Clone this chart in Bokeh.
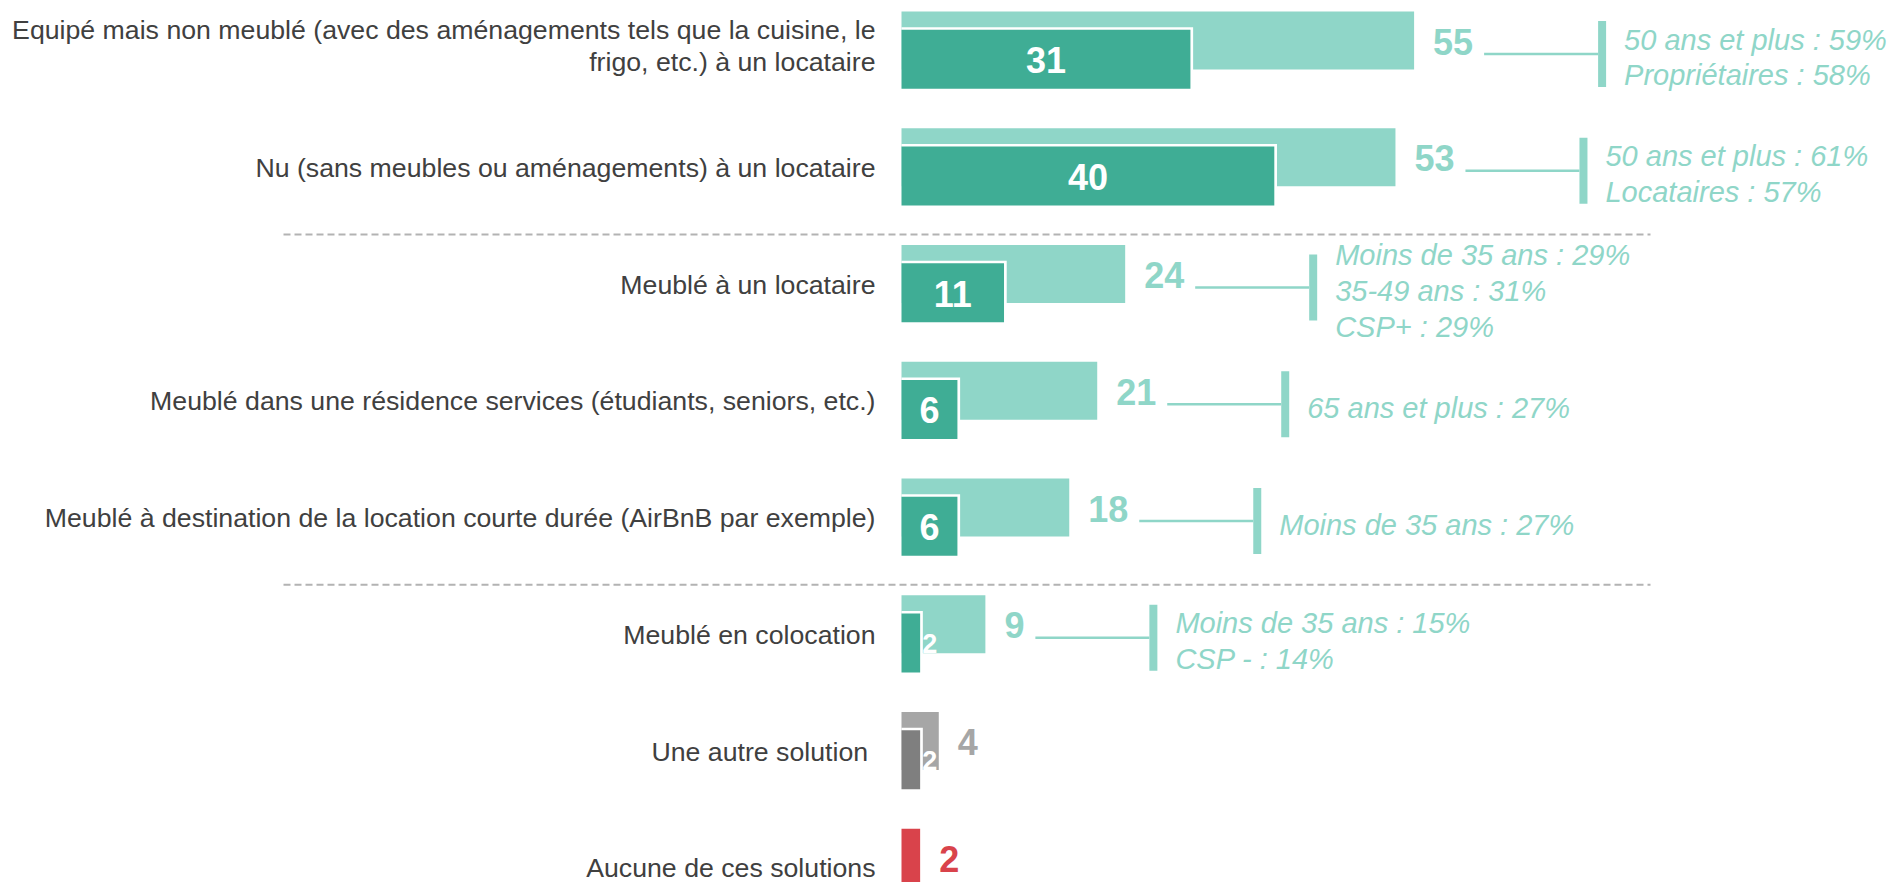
from bokeh.plotting import figure
from bokeh.models import Range1d
from bokeh.core.properties import value
from bokeh.embed import file_html
from bokeh.resources import INLINE

# ---------------- data ----------------
categories = [
    "Equipé mais non meublé (avec des aménagements tels que la cuisine, le\nfrigo, etc.) à un locataire",
    "Nu (sans meubles ou aménagements) à un locataire",
    "Meublé à un locataire",
    "Meublé dans une résidence services (étudiants, seniors, etc.)",
    "Meublé à destination de la location courte durée (AirBnB par exemple)",
    "Meublé en colocation",
    "Une autre solution ",
    "Aucune de ces solutions",
]
total = [55, 53, 24, 21, 18, 9, 4, 2]
first = [31, 40, 11, 6, 6, 2, 2, None]
highlights = [
    ["50 ans et plus : 59%", "Propriétaires : 58%"],
    ["50 ans et plus : 61%", "Locataires : 57%"],
    ["Moins de 35 ans : 29%", "35-49 ans : 31%", "CSP+ : 29%"],
    ["65 ans et plus : 27%"],
    ["Moins de 35 ans : 27%"],
    ["Moins de 35 ans : 15%", "CSP - : 14%"],
    [],
    [],
]
separator_before = [2, 5]

# ---------------- styles ----------------
LIGHT = "#8fd6c8"
DARK = "#3fad95"
GREY_L = "#a6a6a6"
GREY_D = "#7f7f7f"
RED = "#d9434b"
TXT = "#404040"
light_colors = [LIGHT] * 6 + [GREY_L, RED]
dark_colors = [DARK] * 6 + [GREY_D, None]
label_colors = [LIGHT] * 6 + [GREY_L, RED]

PX = 9.32       # pixels per percentage point
ROW = 116.75    # pixels per row
BASE = 901      # x pixel of value 0
TOP = 11        # y pixel of first row
W, H = 1893, 882


def dx(px):
    return px / PX


def dy(px):
    return px / ROW


p = figure(width=W, height=H,
           x_range=Range1d(-BASE / PX, (W - BASE) / PX),
           y_range=Range1d((H - TOP) / ROW, -TOP / ROW),
           output_backend="svg", toolbar_location=None,
           x_axis_type=None, y_axis_type=None, min_border=0)
p.grid.visible = False
p.outline_line_color = None
p.background_fill_color = "white"
p.border_fill_color = "white"

n = len(categories)
rows = list(range(n))

# light (total) bars
p.quad(left=[0] * n, right=total,
       top=[i for i in rows], bottom=[i + dy(58) for i in rows],
       fill_color=light_colors, line_color=None)

# dark (first choice) bars with white halo
di = [i for i in rows if first[i] is not None]
p.quad(left=[0] * len(di), right=[first[i] + dx(2.7) for i in di],
       top=[i + dy(15.7) for i in di], bottom=[i + dy(77.3) for i in di],
       fill_color="white", line_color=None)
p.quad(left=[0] * len(di), right=[first[i] for i in di],
       top=[i + dy(18.3) for i in di], bottom=[i + dy(77.3) for i in di],
       fill_color=[dark_colors[i] for i in di], line_color=None)

# inner labels
big = [i for i in di if first[i] * PX >= 30]
small = [i for i in di if first[i] * PX < 30]
p.text(x=[first[i] / 2 for i in big], y=[i + dy(48.5) for i in big],
       text=[str(first[i]) for i in big],
       text_font=value("Liberation Sans"), text_font_style="bold",
       text_font_size=value("36px"), text_color="white",
       text_align="center", text_baseline="middle")
p.text(x=[first[i] + dx(2) for i in small], y=[i + dy(48) for i in small],
       text=[str(first[i]) for i in small],
       text_font=value("Liberation Sans"), text_font_style="bold",
       text_font_size=value("27px"), text_color="white",
       text_align="left", text_baseline="middle")

# outer labels
p.text(x=[total[i] + dx(19) for i in rows], y=[i + dy(30) for i in rows],
       text=[str(v) for v in total],
       text_font=value("Liberation Sans"), text_font_style="bold",
       text_font_size=value("36px"), text_color=label_colors,
       text_align="left", text_baseline="middle")

# connectors + highlight texts
hi = [i for i in rows if highlights[i]]
cx0 = [total[i] + dx(19 + 20 * len(str(total[i])) + 11) for i in hi]
cx1 = [c + dx(114) for c in cx0]
p.segment(x0=cx0, x1=cx1, y0=[i + dy(42.5) for i in hi], y1=[i + dy(42.5) for i in hi],
          line_color=LIGHT, line_width=2.5)
p.quad(left=cx1, right=[c + dx(8) for c in cx1],
       top=[i + dy(9.5) for i in hi], bottom=[i + dy(75.5) for i in hi],
       fill_color=LIGHT, line_color=None)
p.text(x=[c + dx(26) for c in cx1], y=[i + dy(46) for i in hi],
       text=["\n".join(highlights[i]) for i in hi],
       text_font=value("Liberation Sans"), text_font_style="italic",
       text_font_size=value("29px"), text_color=LIGHT,
       text_align="left", text_baseline="middle", text_line_height=1.11)

# category labels
p.text(x=[dx(-26)] * n, y=[i + dy(34.5 if "\n" in categories[i] else 39.5) for i in rows],
       text=categories,
       text_font=value("Liberation Sans"), text_font_size=value("26.7px"),
       text_color=TXT, text_align="right", text_baseline="middle",
       text_line_height=1.05)

# dashed separators
p.segment(x0=[dx(283 - BASE)] * len(separator_before), x1=[dx(1650 - BASE)] * len(separator_before),
          y0=[i - dy(10.5) for i in separator_before], y1=[i - dy(10.5) for i in separator_before],
          line_color="#b3b3b3", line_width=2, line_dash="7 4")

open("out.html", "w").write(file_html(p, INLINE, title="Chart"))
